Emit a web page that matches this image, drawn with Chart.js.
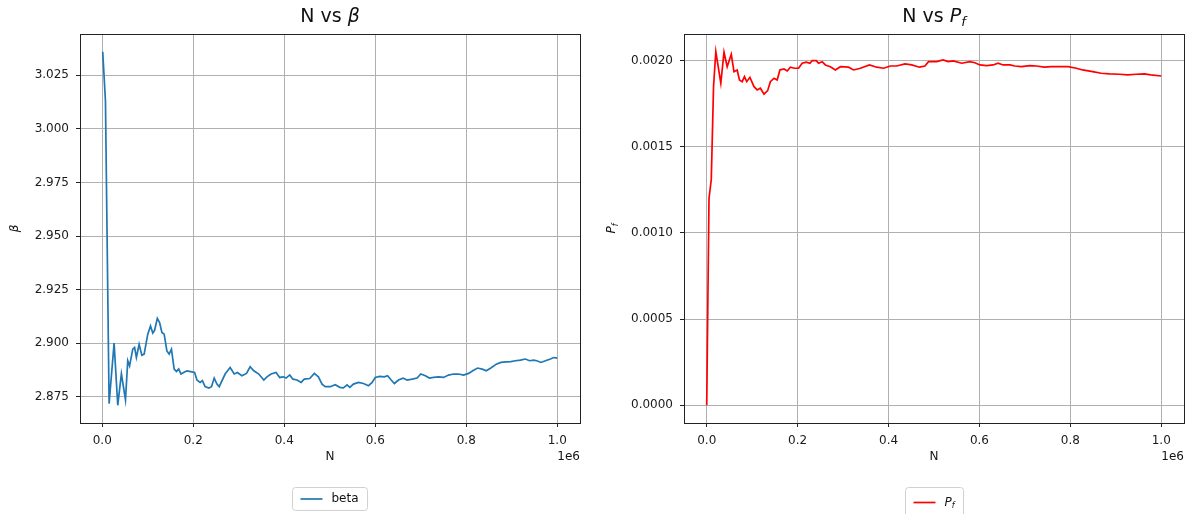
<!DOCTYPE html>
<html>
<head>
<meta charset="utf-8">
<script src="https://cdn.jsdelivr.net/npm/chart.js@4.4.1/dist/chart.umd.min.js"></script>
<style>
  body { margin: 0; background: #fff; }
  .panel { position: absolute; top: 0; height: 514px; }
</style>
</head>
<body>
<div class="panel" style="left:0;width:593px"><canvas id="betaChart" width="593" height="514"></canvas></div>
<div class="panel" style="left:593px;width:594px"><canvas id="pfChart" width="594" height="514"></canvas></div>
<script>
// sample sizes N and reliability index beta
const betaN = [1000, 7000, 15000, 26000, 34000, 42000, 51000, 56000, 60000, 67000,
  71000, 75000, 81000, 87000, 92000, 100000, 106000, 111000, 115000, 121000,
  126000, 131000, 136000, 142000, 147000, 152000, 158000, 163000, 168000, 173000,
  179000, 186000, 197000, 203000, 208000, 215000, 220000, 226000, 234000, 240000,
  246000, 252000, 257000, 270000, 281000, 290000, 297000, 307000, 317000, 325000,
  333000, 344000, 355000, 362000, 371000, 382000, 390000, 398000, 404000, 412000,
  419000, 428000, 437000, 444000, 456000, 466000, 475000, 483000, 490000, 501000,
  512000, 522000, 530000, 538000, 544000, 552000, 563000, 574000, 585000, 593000,
  600000, 610000, 620000, 627000, 635000, 642000, 651000, 661000, 670000, 681000,
  692000, 700000, 710000, 719000, 728000, 739000, 750000, 761000, 772000, 783000,
  794000, 805000, 816000, 825000, 835000, 844000, 854000, 866000, 876000, 888000,
  898000, 908000, 919000, 930000, 939000, 948000, 955000, 964000, 974000, 985000,
  992000, 1000000];
const betaValues = [3.036, 3.013, 2.8718, 2.900, 2.871, 2.8857, 2.8736, 2.8918, 2.8894, 2.8972,
  2.898, 2.8933, 2.8995, 2.8944, 2.8949, 2.9042, 2.908, 2.9047, 2.906, 2.9116,
  2.9096, 2.905, 2.9042, 2.8964, 2.8949, 2.8972, 2.8879, 2.8868, 2.8879, 2.8856,
  2.8863, 2.8871, 2.8866, 2.8863, 2.8828, 2.8817, 2.8825, 2.8797, 2.8791, 2.8797,
  2.8837, 2.8809, 2.8797, 2.8856, 2.8886, 2.8856, 2.8863, 2.8848, 2.8859, 2.889,
  2.8871, 2.8856, 2.8828, 2.8843, 2.8856, 2.8863, 2.884, 2.8843, 2.8837, 2.8852,
  2.8832, 2.8828, 2.8817, 2.8832, 2.8835, 2.8859, 2.8843, 2.8809, 2.8797, 2.8797,
  2.8806, 2.8794, 2.8791, 2.8805, 2.8794, 2.8809, 2.8817, 2.8812, 2.8801, 2.8817,
  2.884, 2.8845, 2.8843, 2.8848, 2.8828, 2.8812, 2.8828, 2.8837, 2.8828, 2.8832,
  2.8837, 2.8856, 2.8848, 2.8837, 2.884, 2.8843, 2.884, 2.8851, 2.8856, 2.8856,
  2.8851, 2.8859, 2.8874, 2.8884, 2.8879, 2.8871, 2.8884, 2.8902, 2.891, 2.8913,
  2.8914, 2.8918, 2.8921, 2.8926, 2.8918, 2.8921, 2.8918, 2.891, 2.8918, 2.8926,
  2.8933, 2.893];

// probability of failure against N
const pfN = [0, 5000, 10000, 15000, 20000, 31000, 38000, 45000, 54000, 60000,
  67000, 72000, 78000, 83000, 88000, 95000, 104000, 111000, 118000, 126000,
  134000, 140000, 148000, 155000, 161000, 170000, 177000, 184000, 193000, 202000,
  210000, 219000, 227000, 232000, 241000, 246000, 254000, 261000, 272000, 283000,
  294000, 312000, 323000, 338000, 358000, 374000, 389000, 404000, 418000, 436000,
  451000, 468000, 480000, 488000, 506000, 520000, 531000, 542000, 561000, 579000,
  590000, 601000, 616000, 630000, 641000, 652000, 667000, 678000, 692000, 711000,
  725000, 743000, 758000, 776000, 795000, 813000, 827000, 849000, 868000, 886000,
  908000, 926000, 945000, 963000, 977000, 1000000];
const pfValues = [0, 0.00120, 0.00131, 0.00185, 0.002052, 0.001869, 0.002049, 0.001965, 0.002037, 0.001936,
  0.001946, 0.001888, 0.001878, 0.001907, 0.001878, 0.001903, 0.001849, 0.00183, 0.00184, 0.001806,
  0.001826, 0.001878, 0.001898, 0.001888, 0.001946, 0.001952, 0.00194, 0.001962, 0.001956, 0.001956,
  0.001985, 0.001991, 0.001985, 0.002, 0.002, 0.001985, 0.001994, 0.001975, 0.001965, 0.001946,
  0.001965, 0.001962, 0.001946, 0.001956, 0.001975, 0.001962, 0.001956, 0.001969, 0.001969, 0.001981,
  0.001975, 0.001962, 0.001969, 0.001994, 0.001994, 0.002004, 0.001994, 0.001998, 0.001985, 0.001994,
  0.001988, 0.001975, 0.001971, 0.001975, 0.001985, 0.001975, 0.001975, 0.001969, 0.001965, 0.001971,
  0.001969, 0.001962, 0.001965, 0.001965, 0.001965, 0.001956, 0.001946, 0.001936, 0.001927, 0.001923,
  0.001921, 0.001917, 0.001921, 0.001923, 0.001917, 0.001911];

// tick positions
const nTicks = [0, 200000, 400000, 600000, 800000, 1000000];
const betaTicks = [2.875, 2.900, 2.925, 2.950, 2.975, 3.000, 3.025];
const pfTicks = [0, 0.0005, 0.0010, 0.0015, 0.0020];

const FONT = '"DejaVu Sans", sans-serif';
Chart.defaults.font.family = FONT;
Chart.defaults.font.size = 12;
Chart.defaults.color = '#1a1a1a';

// min/max with a 5% margin on both ends
function paddedRange(arr) {
  const lo = Math.min(...arr), hi = Math.max(...arr);
  const pad = (hi - lo) * 0.05;
  return [lo - pad, hi + pad];
}

// text runs: [text, kind] where kind is 'r' (regular), 'i' (italic) or 's' (italic subscript)
function runFont(kind, size) {
  if (kind === 'r') return size + 'px ' + FONT;
  if (kind === 's') return 'italic ' + Math.round(size * 0.7) + 'px ' + FONT;
  return 'italic ' + size + 'px ' + FONT;
}
function runsWidth(ctx, runs, size) {
  let w = 0;
  runs.forEach(r => { ctx.font = runFont(r[1], size); w += ctx.measureText(r[0]).width; });
  return w;
}
function drawRuns(ctx, runs, x, y, size, align) {
  const w = runsWidth(ctx, runs, size);
  let cx = align === 'center' ? x - w / 2 : align === 'right' ? x - w : x;
  ctx.textAlign = 'left';
  ctx.textBaseline = 'middle';
  runs.forEach(r => {
    ctx.font = runFont(r[1], size);
    ctx.fillText(r[0], cx, r[1] === 's' ? y + size * 0.3 : y);
    cx += ctx.measureText(r[0]).width;
  });
}

// frame, title, y label, offset text and legend
function decorations(cfg) {
  return {
    id: 'decorations',
    afterDraw(chart) {
      const ctx = chart.ctx, a = chart.chartArea;
      const cx = (a.left + a.right) / 2;
      ctx.save();
      ctx.strokeStyle = '#222';
      ctx.lineWidth = 1;
      ctx.strokeRect(Math.round(a.left) + 0.5, Math.round(a.top) + 0.5,
        Math.round(a.right - a.left), Math.round(a.bottom - a.top));

      ctx.fillStyle = '#111';
      drawRuns(ctx, cfg.title, cx, 17, 19, 'center');

      ctx.save();
      ctx.translate(cfg.ylabelX, (a.top + a.bottom) / 2);
      ctx.rotate(-Math.PI / 2);
      drawRuns(ctx, cfg.ylabel, 0, 0, 12, 'center');
      ctx.restore();

      drawRuns(ctx, [['1e6', 'r']], a.right, 457, 12, 'right');

      // legend box below the axis
      const ds = chart.data.datasets[0];
      const textW = runsWidth(ctx, cfg.legend, 12);
      const boxW = 8 + 22 + 9 + textW + 9;
      const x0 = Math.round(cx - boxW / 2) + 0.5, y0 = 487.5;
      ctx.beginPath();
      ctx.roundRect(x0, y0, boxW, cfg.legendH, 3);
      ctx.fillStyle = '#fff';
      ctx.fill();
      ctx.strokeStyle = '#d0d0d0';
      ctx.stroke();
      const my = y0 + cfg.legendH / 2;
      ctx.beginPath();
      ctx.moveTo(x0 + 8, my);
      ctx.lineTo(x0 + 30, my);
      ctx.strokeStyle = ds.borderColor;
      ctx.lineWidth = ds.borderWidth;
      ctx.stroke();
      ctx.fillStyle = '#111';
      drawRuns(ctx, cfg.legend, x0 + 39, my, 12, 'left');
      ctx.restore();
    }
  };
}

function lineChart(id, n, values, ticks, cfg) {
  const points = n.map((v, i) => ({ x: v, y: values[i] }));
  const xr = paddedRange(n), yr = paddedRange(values);
  const grid = { color: '#b0b0b0', lineWidth: 1, tickLength: 4, tickColor: '#222' };
  const border = { display: false };
  return new Chart(document.getElementById(id), {
    type: 'line',
    data: {
      datasets: [{
        label: cfg.label,
        data: points,
        borderColor: cfg.color,
        borderWidth: 1.7,
        pointRadius: 0,
        tension: 0,
        fill: false
      }]
    },
    options: {
      responsive: false,
      animation: false,
      devicePixelRatio: 1,
      layout: { padding: { left: 0, top: 34, right: cfg.padRight, bottom: 0 } },
      plugins: { legend: { display: false }, tooltip: { enabled: false } },
      scales: {
        x: {
          type: 'linear',
          min: xr[0],
          max: xr[1],
          afterBuildTicks: s => { s.ticks = nTicks.map(v => ({ value: v })); },
          afterFit: s => { s.height = 91; s.paddingLeft = 0; s.paddingRight = 0; },
          ticks: { callback: v => (v / 1e6).toFixed(1), padding: 7, maxRotation: 0, autoSkip: false },
          grid: grid,
          border: border,
          title: { display: true, text: 'N', padding: { top: 0, bottom: 50 } }
        },
        y: {
          type: 'linear',
          min: yr[0],
          max: yr[1],
          afterBuildTicks: s => { s.ticks = ticks.map(v => ({ value: v })); },
          afterFit: s => { s.width = cfg.axisWidth; s.paddingTop = 0; s.paddingBottom = 0; },
          ticks: { callback: v => v.toFixed(cfg.digits), padding: 7, autoSkip: false },
          grid: grid,
          border: border
        }
      }
    },
    plugins: [decorations(cfg)]
  });
}

lineChart('betaChart', betaN, betaValues, betaTicks, {
  label: 'beta', color: '#1f77b4', digits: 3, axisWidth: 80, padRight: 13,
  title: [['N vs ', 'r'], ['β', 'i']],
  ylabel: [['β', 'i']],
  legend: [['beta', 'r']],
  legendH: 23,
  ylabelX: 15
});

lineChart('pfChart', pfN, pfValues, pfTicks, {
  label: 'P_f', color: '#ff0000', digits: 4, axisWidth: 91, padRight: 3,
  title: [['N vs ', 'r'], ['P', 'i'], ['f', 's']],
  ylabel: [['P', 'i'], ['f', 's']],
  legend: [['P', 'i'], ['f', 's']],
  legendH: 30,
  ylabelX: 19
});
</script>
</body>
</html>
